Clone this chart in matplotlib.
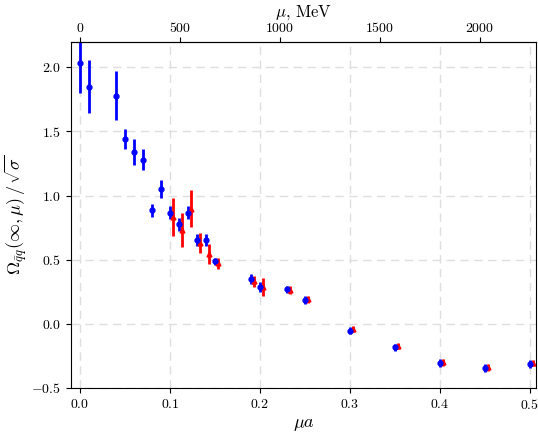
import numpy as np
import matplotlib
matplotlib.use("Agg")
import matplotlib.pyplot as plt

plt.rcParams['font.family'] = 'serif'
plt.rcParams['font.serif'] = ['cmr10']
plt.rcParams['mathtext.fontset'] = 'cm'
plt.rcParams['axes.formatter.use_mathtext'] = True

# lattice spacing conversion, MeV per unit of mu*a
inv_a = 4500.0

# blue data set
mua_blue = [0.00, 0.01, 0.04, 0.05, 0.06, 0.07, 0.08, 0.09, 0.10, 0.11, 0.12,
            0.13, 0.14, 0.15, 0.19, 0.20, 0.23, 0.25, 0.30, 0.35, 0.40, 0.45, 0.50]
omega_blue = [2.03, 1.85, 1.78, 1.44, 1.34, 1.28, 0.885, 1.05, 0.867, 0.776, 0.867,
              0.652, 0.652, 0.487, 0.349, 0.29, 0.269, 0.186, -0.052, -0.184,
              -0.305, -0.344, -0.313]
err_blue = [0.23, 0.21, 0.19, 0.08, 0.10, 0.083, 0.05, 0.07, 0.05, 0.05, 0.05,
            0.045, 0.045, 0.03, 0.04, 0.04, 0.03, 0.03, 0.03, 0.03, 0.03, 0.03, 0.03]

# red data set
mua_red = [0.10, 0.11, 0.12, 0.13, 0.14, 0.15, 0.19, 0.20, 0.23, 0.25, 0.30,
           0.35, 0.40, 0.45, 0.50]
omega_red = [0.833, 0.732, 0.898, 0.634, 0.543, 0.471, 0.331, 0.285, 0.265, 0.19,
             -0.039, -0.173, -0.30, -0.34, -0.307]
err_red = [0.15, 0.13, 0.145, 0.078, 0.08, 0.04, 0.04, 0.07, 0.03, 0.025, 0.025,
           0.025, 0.025, 0.025, 0.025]
red_shift = 0.0035

fig = plt.figure(figsize=(5.38, 4.34), dpi=100)
ax = fig.add_axes([0.132, 0.106, 0.864, 0.798])

ax.grid(True, color='0.87', linestyle=(0, (6, 4)), linewidth=1.0)
ax.set_axisbelow(True)

ax.errorbar(np.array(mua_red) + red_shift, omega_red, yerr=err_red, fmt='^',
            color='r', markersize=3.5, elinewidth=2, capsize=0)
ax.errorbar(mua_blue, omega_blue, yerr=err_blue, fmt='o',
            color='b', markersize=3.5, elinewidth=2, capsize=0)

ax.set_xlim(-0.01, 0.507)
ax.set_ylim(-0.5, 2.2)
ax.set_xticks([0.0, 0.1, 0.2, 0.3, 0.4, 0.5])
ax.set_yticks([-0.5, 0.0, 0.5, 1.0, 1.5, 2.0])
ax.tick_params(labelsize=10)
ax.set_xlabel(r'$\mu a$', fontsize=13, labelpad=4)
ax.set_ylabel(r'$\Omega_{\bar{q}q}(\infty,\mu)\,/\,\sqrt{\sigma}$', fontsize=13, labelpad=2)

top = ax.secondary_xaxis('top', functions=(lambda x: x * inv_a, lambda m: m / inv_a))
top.set_xticks([0, 500, 1000, 1500, 2000])
top.tick_params(labelsize=10, pad=1.5)
top.set_xlabel(r'$\mu$, MeV', fontsize=12, labelpad=3)

fig.savefig('out.png', dpi=100)
